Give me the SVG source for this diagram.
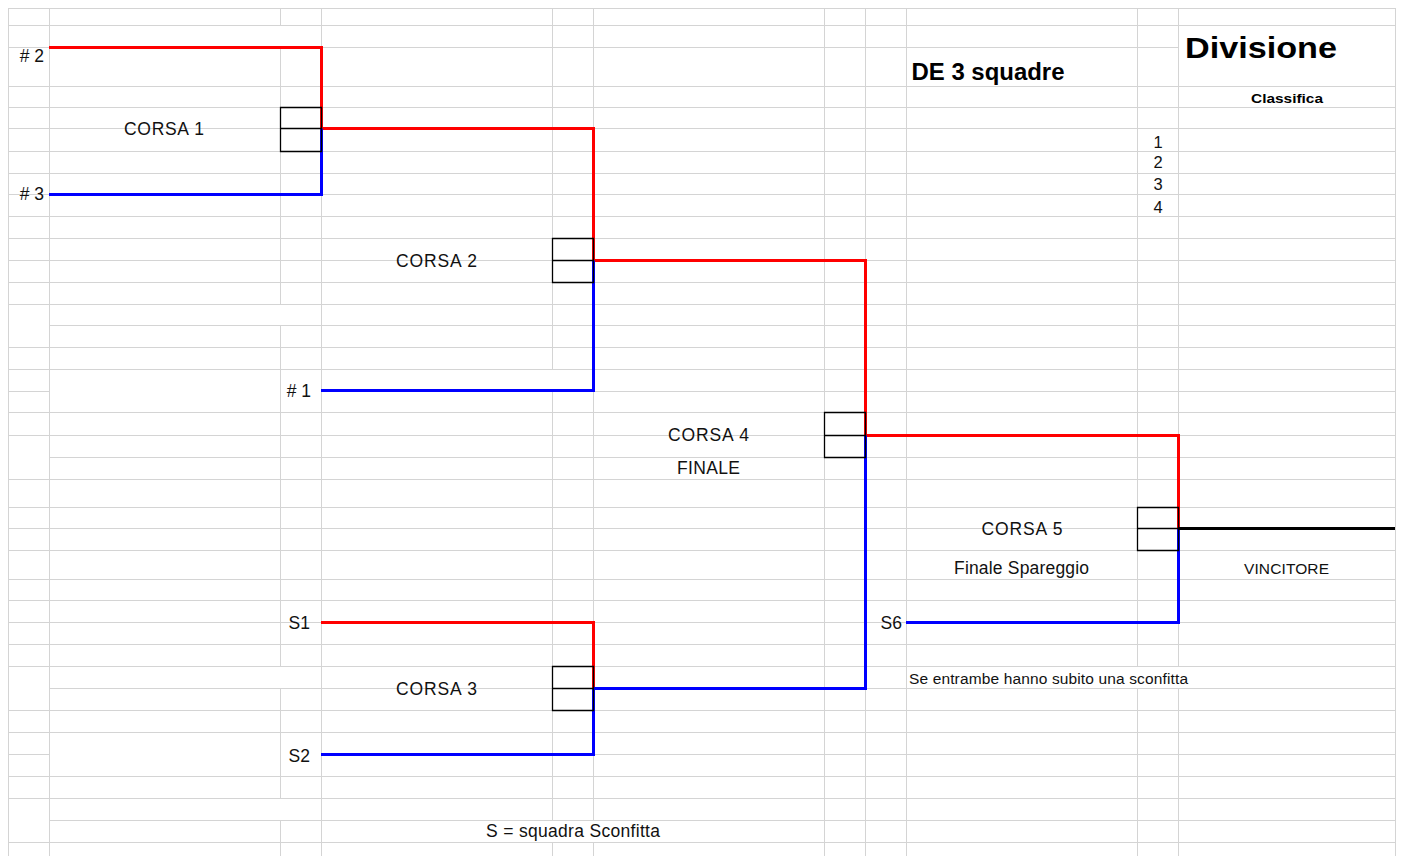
<svg xmlns="http://www.w3.org/2000/svg" width="1403" height="856" viewBox="0 0 1403 856">
<style>
.g{stroke:#d4d4d4;stroke-width:1;fill:none}
.r{stroke:#ff0000;stroke-width:3;fill:none;stroke-linejoin:miter}
.b{stroke:#0000ff;stroke-width:3;fill:none;stroke-linejoin:miter}
.k{stroke:#000000;stroke-width:3;fill:none}
.box{stroke:#000000;stroke-width:1.3;fill:none}
.t{font-family:"Liberation Sans",Arial,sans-serif;font-size:17.5px;fill:#111}
.s{font-family:"Liberation Sans",Arial,sans-serif;font-size:15.5px;fill:#111}
.n{font-family:"Liberation Sans",Arial,sans-serif;font-size:16.5px;fill:#111}
.h{font-family:"Liberation Sans",Arial,sans-serif;font-weight:bold;fill:#000}
</style>
<rect width="1403" height="856" fill="#ffffff"/>
<g id="grid" class="g">
<path d="M8.5 8V856M49.5 8V856M280.5 8V25M280.5 47V304M280.5 325V666M280.5 688V798M280.5 820V856M321.5 8V856M552.5 8V369M552.5 391V820M552.5 842V856M593.5 8V820M593.5 842V856M824.5 8V856M865.5 8V856M906.5 8V856M1137.5 8V666M1137.5 688V856M1178.5 8V666M1178.5 688V856M1395.5 8V856"/>
<path d="M8 8.5H1396M8 25.5H1396M8 47.5H1178M8 86.5H1396M8 107.5H1396M8 128.5H1396M8 151.5H1396M8 173.5H1396M8 194.5H1396M8 216.5H1396M8 238.5H1396M8 260.5H1396M8 282.5H1396M8 304.5H1396M49 325.5H1396M8 347.5H1396M8 369.5H1396M8 391.5H49M321 391.5H1396M8 412.5H1396M8 435.5H1396M49 457.5H1396M8 479.5H1396M8 507.5H1396M8 528.5H1396M8 550.5H1396M8 579.5H1396M8 600.5H1396M8 622.5H1396M8 644.5H1396M8 666.5H1396M49 688.5H1396M8 710.5H1396M8 732.5H1396M8 754.5H49M321 754.5H1396M8 776.5H1396M8 798.5H1396M49 820.5H1396M8 842.5H1396"/>
</g>
<g id="connectors">
<path class="r" d="M49 47.5H321.5V128.5H593.5V260.5H865.5V435.5H1178.5V528.5"/>
<path class="b" d="M49 194.5H321.5V128.5"/>
<path class="b" d="M321 390.5H593.5V260.5"/>
<path class="r" d="M321 622.5H593.5V688.5"/>
<path class="b" d="M321 754.5H593.5V688.5"/>
<path class="b" d="M593.5 688.5H865.5V435.5"/>
<path class="b" d="M906 622.5H1178.5V528.5"/>
<path class="k" d="M1178.5 528.5H1395"/>
</g>
<g id="corsa1">
<path class="box" d="M280.5 107.5H321.5V151.5H280.5ZM280.5 128.5H321.5"/>
<text class="t" x="164" y="135" text-anchor="middle" textLength="80" lengthAdjust="spacing">CORSA 1</text>
</g>
<g id="corsa2">
<path class="box" d="M552.5 238.5H593.5V282.5H552.5ZM552.5 260.5H593.5"/>
<text class="t" x="436.5" y="267" text-anchor="middle" textLength="81" lengthAdjust="spacing">CORSA 2</text>
</g>
<g id="corsa3">
<path class="box" d="M552.5 666.5H593.5V710.5H552.5ZM552.5 688.5H593.5"/>
<text class="t" x="436.5" y="695" text-anchor="middle" textLength="81" lengthAdjust="spacing">CORSA 3</text>
</g>
<g id="corsa4">
<path class="box" d="M824.5 412.5H865.5V457.5H824.5ZM824.5 435.5H865.5"/>
<text class="t" x="708.5" y="441" text-anchor="middle" textLength="81" lengthAdjust="spacing">CORSA 4</text>
<text class="t" x="708.5" y="474" text-anchor="middle" textLength="63" lengthAdjust="spacing">FINALE</text>
</g>
<g id="corsa5">
<path class="box" d="M1137.5 507.5H1178.5V550.5H1137.5ZM1137.5 528.5H1178.5"/>
<text class="t" x="1022" y="535" text-anchor="middle" textLength="81" lengthAdjust="spacing">CORSA 5</text>
<text class="t" x="1021.5" y="574" text-anchor="middle" textLength="135" lengthAdjust="spacing">Finale Spareggio</text>
</g>
<g id="teams">
<text class="t" x="44" y="62" text-anchor="end">#&#160;2</text>
<text class="t" x="44" y="200" text-anchor="end">#&#160;3</text>
<text class="t" x="311" y="397" text-anchor="end">#&#160;1</text>
<text class="t" x="310" y="629" text-anchor="end">S1</text>
<text class="t" x="310" y="762" text-anchor="end">S2</text>
<text class="t" x="902" y="629" text-anchor="end">S6</text>
</g>
<g id="winner">
<text class="s" x="1286.5" y="574" text-anchor="middle" textLength="85" lengthAdjust="spacing">VINCITORE</text>
</g>
<g id="notes">
<text class="s" x="909" y="684" textLength="279" lengthAdjust="spacing">Se entrambe hanno subito una sconfitta</text>
<text class="t" x="486" y="837" textLength="174" lengthAdjust="spacing">S = squadra Sconfitta</text>
</g>
<g id="header">
<text class="h" x="1185" y="58" font-size="30" textLength="152" lengthAdjust="spacingAndGlyphs">Divisione</text>
<text class="h" x="911.5" y="80" font-size="23" textLength="153" lengthAdjust="spacingAndGlyphs">DE 3 squadre</text>
<text class="h" x="1251" y="103" font-size="13.5" textLength="72" lengthAdjust="spacingAndGlyphs">Classifica</text>
</g>
<g id="classifica">
<text class="n" x="1158" y="148" text-anchor="middle">1</text>
<text class="n" x="1158" y="168" text-anchor="middle">2</text>
<text class="n" x="1158" y="190" text-anchor="middle">3</text>
<text class="n" x="1158" y="213" text-anchor="middle">4</text>
</g>
</svg>
